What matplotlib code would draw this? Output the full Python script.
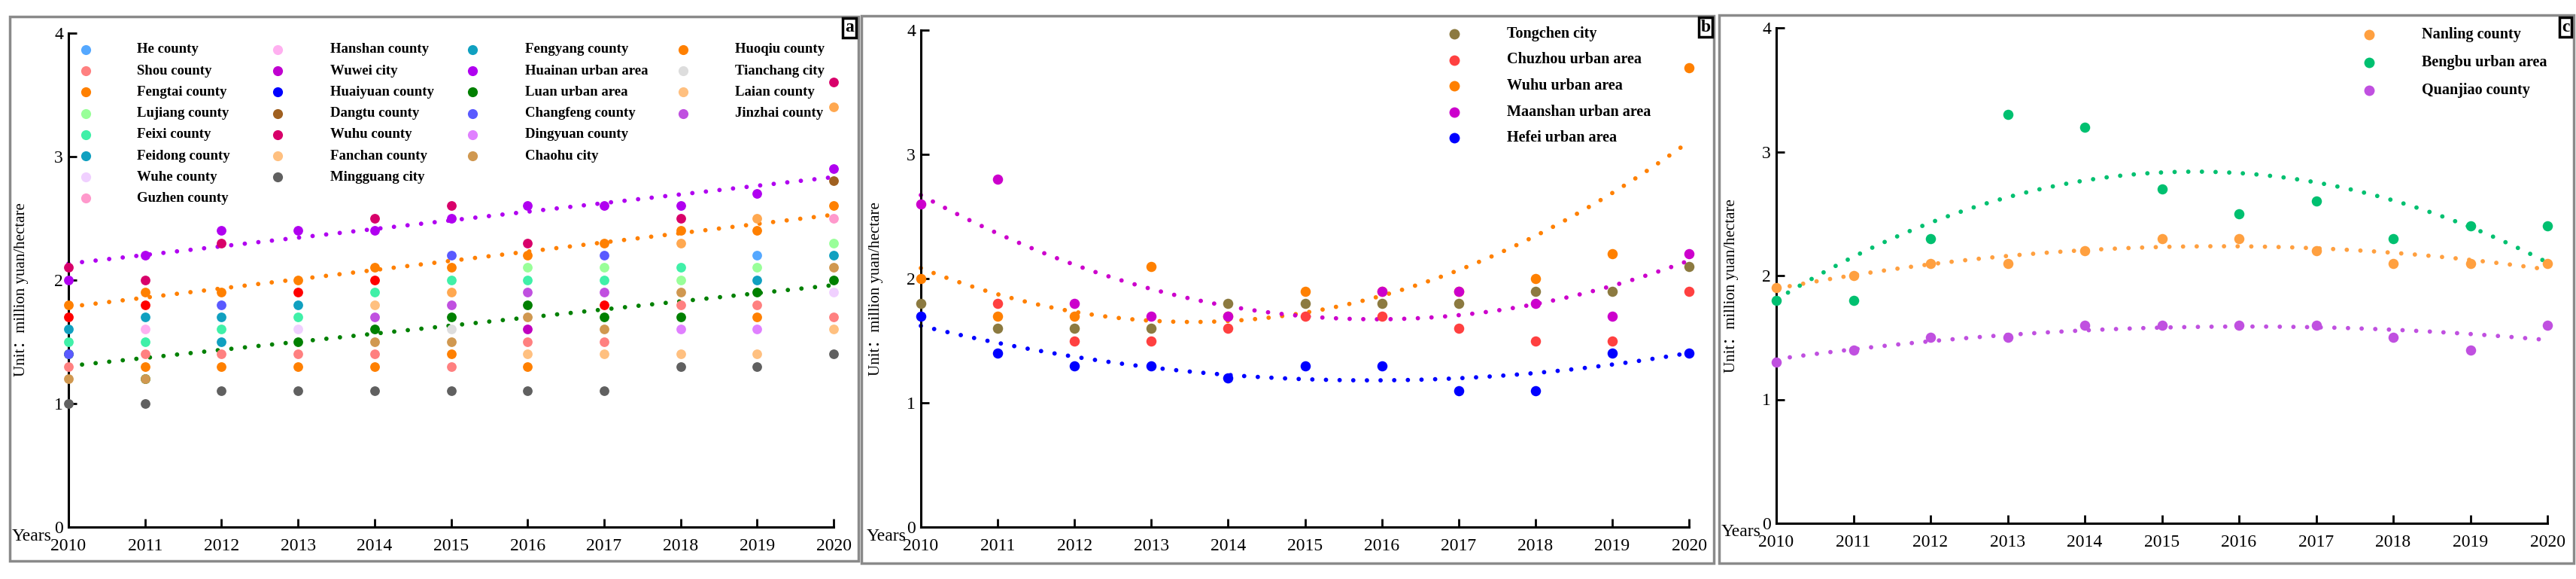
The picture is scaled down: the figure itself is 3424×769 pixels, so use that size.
import numpy as np
import matplotlib.pyplot as plt
from matplotlib.patches import Rectangle

plt.rcParams['font.family'] = ['Liberation Serif', 'Noto Sans CJK SC', 'DejaVu Sans']

W, H = 3424, 769
nan = np.nan
years = np.arange(2010, 2021)
ylabel = 'Unit：million yuan/hectare'

# ---- panel a (values 2010..2020, nan = hidden behind other points) ----
he_county      = [nan, nan, nan, nan, nan, nan, nan, nan, nan, 2.2, nan]
shou_county    = [1.3, 1.4, 1.4, 1.4, 1.4, 1.3, 1.5, 1.5, 1.8, 1.8, 1.7]
fengtai_county = [nan, 1.3, 1.3, 1.3, 1.3, 1.4, 1.3, nan, nan, 1.7, nan]
lujiang_county = [nan, nan, nan, nan, nan, nan, 2.1, 2.1, 2.0, 2.1, 2.3]
feixi_county   = [1.5, 1.5, 1.6, 1.7, 1.9, 2.0, 2.0, 2.0, 2.1, nan, nan]
feidong_county = [1.6, 1.7, 1.7, 1.8, nan, nan, nan, nan, nan, nan, nan]
wuhe_county    = [nan, nan, nan, 1.6, nan, nan, nan, nan, nan, nan, 1.9]
guzhen_county  = [nan, nan, nan, nan, nan, nan, nan, nan, nan, nan, 2.5]
hanshan_county = [nan, 1.6, nan, nan, nan, nan, nan, nan, nan, nan, nan]
wuwei_city     = [nan, nan, nan, nan, nan, nan, 1.6, nan, nan, nan, nan]
huaiyuan_county = [1.7, 1.8, nan, 1.9, 2.0, nan, nan, 1.8, nan, nan, nan]
dangtu_county  = [nan, nan, nan, nan, nan, nan, nan, nan, nan, nan, 2.8]
wuhu_county    = [2.1, 2.0, 2.3, nan, 2.5, 2.6, 2.3, nan, 2.5, nan, 3.6]
fanchan_county = [nan, nan, nan, nan, 1.8, nan, 1.4, 1.4, 1.4, 1.4, 1.6]
mingguang_city = [1.0, 1.0, 1.1, 1.1, 1.1, 1.1, 1.1, 1.1, 1.3, 1.3, 1.4]
fengyang_county = [nan, nan, 1.5, nan, nan, nan, nan, nan, nan, 2.0, 2.2]
huainan_urban  = [2.0, 2.2, 2.4, 2.4, 2.4, 2.5, 2.6, 2.6, 2.6, 2.7, 2.9]
luan_urban     = [1.4, 1.2, nan, 1.5, 1.6, 1.7, 1.8, 1.7, 1.7, 1.9, 2.0]
changfeng_county = [1.4, nan, 1.8, nan, nan, 2.2, nan, 2.2, nan, nan, nan]
dingyuan_county = [nan, nan, nan, nan, nan, nan, nan, nan, 1.6, 1.6, nan]
chaohu_city    = [1.2, 1.2, nan, nan, 1.5, 1.5, 1.7, 1.6, 1.9, nan, 2.1]
huoqiu_county  = [1.8, 1.9, 1.9, 2.0, 2.1, 2.1, 2.2, 2.3, 2.4, 2.4, 2.6]
tianchang_city = [nan, nan, nan, nan, nan, 1.6, nan, nan, nan, nan, nan]
laian_county   = [nan, nan, nan, nan, nan, 1.9, nan, nan, 2.3, 2.5, 3.4]
jinzhai_county = [nan, nan, nan, nan, 1.7, 1.8, 1.9, 1.9, nan, nan, nan]

series_a = [
    ('He county', he_county, '#55a8ff', '#55a8ff'),
    ('Shou county', shou_county, '#ff8080', '#ff8080'),
    ('Fengtai county', fengtai_county, '#ff8000', '#ff8000'),
    ('Lujiang county', lujiang_county, '#99ff99', '#99ff99'),
    ('Feixi county', feixi_county, '#40f0a8', '#40f0a8'),
    ('Feidong county', feidong_county, '#10a0c0', '#10a0c0'),
    ('Wuhe county', wuhe_county, '#f0d0ff', '#f0d0ff'),
    ('Guzhen county', guzhen_county, '#ff99cc', '#ff99cc'),
    ('Hanshan county', hanshan_county, '#ffb0f0', '#ffb0f0'),
    ('Wuwei city', wuwei_city, '#c000d0', '#c000c0'),
    ('Huaiyuan county', huaiyuan_county, '#0000ff', '#ff0000'),
    ('Dangtu county', dangtu_county, '#a06020', '#a06020'),
    ('Wuhu county', wuhu_county, '#d8006a', '#d8006a'),
    ('Fanchan county', fanchan_county, '#ffc080', '#ffc080'),
    ('Mingguang city', mingguang_city, '#606060', '#606060'),
    ('Fengyang county', fengyang_county, '#10a0c0', '#10a0c0'),
    ('Huainan urban area', huainan_urban, '#b000f0', '#b000f0'),
    ('Luan urban area', luan_urban, '#008000', '#008000'),
    ('Changfeng county', changfeng_county, '#5a5aff', '#5a5aff'),
    ('Dingyuan county', dingyuan_county, '#e080ff', '#e080ff'),
    ('Chaohu city', chaohu_city, '#d09850', '#d09850'),
    ('Huoqiu county', huoqiu_county, '#ff8000', '#ff8000'),
    ('Tianchang city', tianchang_city, '#dddddd', '#dddddd'),
    ('Laian county', laian_county, '#ffc080', '#ffa850'),
    ('Jinzhai county', jinzhai_county, '#c050e0', '#c050e0'),
]
trend_a = ['Huainan urban area', 'Huoqiu county', 'Luan urban area']
legend_cols_a = [8, 7, 6, 4]

# ---- panel b ----
tongchen_city = [1.8, 1.6, 1.6, 1.6, 1.8, 1.8, 1.8, 1.8, 1.9, 1.9, 2.1]
chuzhou_urban = [nan, 1.8, 1.5, 1.5, 1.6, 1.7, 1.7, 1.6, 1.5, 1.5, 1.9]
wuhu_urban    = [2.0, 1.7, 1.7, 2.1, 1.7, 1.9, 1.9, 1.9, 2.0, 2.2, 3.7]
maanshan_urban = [2.6, 2.8, 1.8, 1.7, 1.7, nan, 1.9, 1.9, 1.8, 1.7, 2.2]
hefei_urban   = [1.7, 1.4, 1.3, 1.3, 1.2, 1.3, 1.3, 1.1, 1.1, 1.4, 1.4]
series_b = [
    ('Tongchen city', tongchen_city, '#8c7a40'),
    ('Chuzhou urban area', chuzhou_urban, '#ff4040'),
    ('Wuhu urban area', wuhu_urban, '#ff8000'),
    ('Maanshan urban area', maanshan_urban, '#cc00cc'),
    ('Hefei urban area', hefei_urban, '#0000ff'),
]
trend_b = ['Wuhu urban area', 'Maanshan urban area', 'Hefei urban area']

# ---- panel c ----
nanling_county = [1.9, 2.0, 2.1, 2.1, 2.2, 2.3, 2.3, 2.2, 2.1, 2.1, 2.1]
bengbu_urban   = [1.8, 1.8, 2.3, 3.3, 3.2, 2.7, 2.5, 2.6, 2.3, 2.4, 2.4]
quanjiao_county = [1.3, 1.4, 1.5, 1.5, 1.6, 1.6, 1.6, 1.6, 1.5, 1.4, 1.6]
series_c = [
    ('Nanling county', nanling_county, '#ffa040'),
    ('Bengbu urban area', bengbu_urban, '#00c070'),
    ('Quanjiao county', quanjiao_county, '#c050e0'),
]
trend_c = ['Nanling county', 'Bengbu urban area', 'Quanjiao county']


def fpx(x, y):
    return x / W, 1 - y / H


fig = plt.figure(figsize=(W / 100, H / 100), dpi=100)


def make_axes(x0, x1, y4, y0):
    ax = fig.add_axes([x0 / W, 1 - y0 / H, (x1 - x0) / W, (y0 - y4) / H])
    ax.set_xlim(2010, 2020)
    ax.set_ylim(0, 4)
    ax.set_xticks(years)
    ax.set_yticks([0, 1, 2, 3, 4])
    for s in ['top', 'right']:
        ax.spines[s].set_visible(False)
    for s in ['left', 'bottom']:
        ax.spines[s].set_linewidth(2.2)
    ax.tick_params(axis='both', direction='in', length=8, width=2, labelsize=17)
    ax.tick_params(axis='x', pad=11)
    ax.tick_params(axis='y', pad=5)
    ax.set_ylabel(ylabel, fontsize=15)
    ax.yaxis.set_label_coords(-0.052, 0.48)
    return ax


def trend(ax, vals, color, deg):
    v = np.array(vals, dtype=float)
    ok = ~np.isnan(v)
    p = np.polyfit(years[ok], v[ok], deg)
    xs = np.linspace(2010, 2020, 300)
    ax.plot(xs, np.polyval(p, xs), color=color, lw=4.2, linestyle=(0, (0.01, 3.1)),
            dash_capstyle='round', zorder=2, clip_on=False)


def frame(x0, y0, x1, y1, label, lx, ly):
    fig.patches.append(Rectangle(fpx(x0, y1), (x1 - x0) / W, (y1 - y0) / H,
                                 transform=fig.transFigure, fill=False,
                                 edgecolor='#8a8a8a', lw=2.5))
    fig.text(*fpx(lx, ly), label, fontsize=17, fontweight='bold', ha='center', va='center',
             bbox=dict(boxstyle='square,pad=0.12', fc='white', ec='black', lw=2.5))


# panel a
frame(13, 22, 1141, 745, 'a', 1129, 37)
ax = make_axes(91, 1108, 43.5, 700)
for name, vals, lc, pc in series_a:
    ax.scatter(years, vals, s=85, color=pc, linewidths=0, zorder=3, clip_on=False)
    if name in trend_a:
        trend(ax, vals, pc, 1)
fig.text(*fpx(42, 712), 'Years', fontsize=17, ha='center', va='center')

marker_x = [114, 369, 628, 908]
text_x = [182, 439, 698, 977]
k = 0
for c, n in enumerate(legend_cols_a):
    for r in range(n):
        name, vals, lc, pc = series_a[k]
        y = 66 + r * 28.2
        fig.lines.append(plt.Line2D([marker_x[c] / W], [1 - y / H], marker='o', ms=9.5,
                                    color=lc, mec='none', transform=fig.transFigure))
        fig.text(*fpx(text_x[c], y), name, fontsize=13.5, fontweight='bold', va='center')
        k += 1

# panel b
frame(1145, 21, 2278, 748, 'b', 2267, 36)
ax = make_axes(1224, 2245, 40, 700)
for name, vals, c in series_b:
    ax.scatter(years, vals, s=95, color=c, linewidths=0, zorder=3, clip_on=False)
    if name in trend_b:
        trend(ax, vals, c, 2)
ax.yaxis.set_label_coords(-0.049, 0.48)
fig.text(*fpx(1178, 712), 'Years', fontsize=17, ha='center', va='center')
for r, (name, vals, c) in enumerate(series_b):
    y = 45 + r * 34.5
    fig.lines.append(plt.Line2D([1933 / W], [1 - y / H], marker='o', ms=10,
                                color=c, mec='none', transform=fig.transFigure))
    fig.text(*fpx(2003, y), name, fontsize=14.5, fontweight='bold', va='center')

# panel c
frame(2285, 20, 3421, 748, 'c', 3410, 36)
ax = make_axes(2361, 3386, 37, 695)
for name, vals, c in series_c:
    ax.scatter(years, vals, s=95, color=c, linewidths=0, zorder=3, clip_on=False)
    if name in trend_c:
        trend(ax, vals, c, 2)
ax.yaxis.set_label_coords(-0.049, 0.48)
fig.text(*fpx(2314, 707), 'Years', fontsize=17, ha='center', va='center')
for r, (name, vals, c) in enumerate(series_c):
    y = 46 + r * 37
    fig.lines.append(plt.Line2D([3149 / W], [1 - y / H], marker='o', ms=10,
                                color=c, mec='none', transform=fig.transFigure))
    fig.text(*fpx(3219, y), name, fontsize=14.5, fontweight='bold', va='center')

fig.savefig('out.png', dpi=100)
